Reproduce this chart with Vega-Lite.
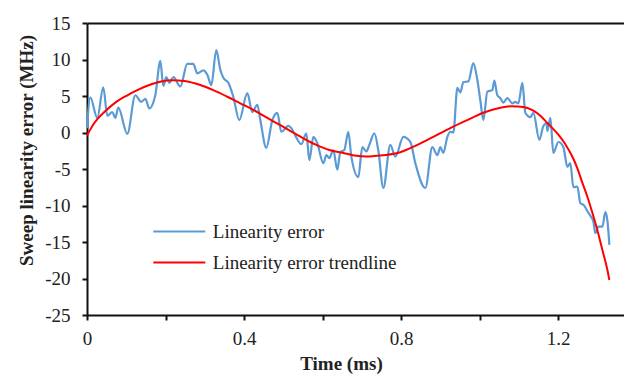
{
  "$schema": "https://vega.github.io/schema/vega-lite/v6.json",
  "width": 537,
  "height": 292,
  "autosize": "none",
  "padding": {"left": 87, "top": 23, "right": 0, "bottom": 61},
  "background": "white",
  "config": {
    "view": {"stroke": null},
    "font": "Liberation Serif",
    "axis": {"grid": false, "domainColor": "#111", "domainWidth": 2, "tickColor": "#111", "tickWidth": 2, "tickSize": 5, "labelFont": "Liberation Serif", "labelFontSize": 19, "labelColor": "#222", "titleFont": "Liberation Serif", "titleFontSize": 19, "titleFontWeight": "bold", "titleColor": "#222", "labelOverlap": false, "labelFlush": false}
  },
  "datasets": {
    "err": [
      {"t": 0.0, "v": 0.6}, {"t": 0.0084, "v": 4.8}, {"t": 0.0262, "v": 2.0}, {"t": 0.0415, "v": 6.2}, {"t": 0.0517, "v": 2.3},
      {"t": 0.0644, "v": 2.8}, {"t": 0.0721, "v": 2.0}, {"t": 0.0797, "v": 3.4}, {"t": 0.1027, "v": -0.2}, {"t": 0.1231, "v": 5.1},
      {"t": 0.1384, "v": 4.2}, {"t": 0.1486, "v": 4.6}, {"t": 0.1588, "v": 3.3}, {"t": 0.174, "v": 5.1}, {"t": 0.1868, "v": 9.8},
      {"t": 0.1944, "v": 6.4}, {"t": 0.2021, "v": 7.6}, {"t": 0.2097, "v": 6.8}, {"t": 0.2199, "v": 7.6}, {"t": 0.2377, "v": 6.3},
      {"t": 0.2555, "v": 9.4}, {"t": 0.2708, "v": 9.4}, {"t": 0.281, "v": 8.1}, {"t": 0.2963, "v": 8.5}, {"t": 0.3065, "v": 7.9},
      {"t": 0.3167, "v": 6.5}, {"t": 0.3294, "v": 11.3}, {"t": 0.3396, "v": 8.6}, {"t": 0.3473, "v": 7.5}, {"t": 0.36, "v": 6.8},
      {"t": 0.3727, "v": 4.9}, {"t": 0.388, "v": 1.7}, {"t": 0.4084, "v": 5.4}, {"t": 0.4211, "v": 2.8}, {"t": 0.4339, "v": 3.8},
      {"t": 0.4415, "v": 1.7}, {"t": 0.4568, "v": -2.1}, {"t": 0.4721, "v": 1.7}, {"t": 0.4848, "v": 2.7}, {"t": 0.495, "v": 0.1},
      {"t": 0.5129, "v": 0.9}, {"t": 0.5205, "v": 0.6}, {"t": 0.5333, "v": -0.7}, {"t": 0.546, "v": -1.6}, {"t": 0.5587, "v": -0.1},
      {"t": 0.5664, "v": -3.8}, {"t": 0.5766, "v": -0.6}, {"t": 0.5868, "v": -1.5}, {"t": 0.6021, "v": -4.2}, {"t": 0.6097, "v": -3.1},
      {"t": 0.6173, "v": -3.5}, {"t": 0.6275, "v": -2.4}, {"t": 0.6377, "v": -5.1}, {"t": 0.6453, "v": -2.7}, {"t": 0.6555, "v": -2.4},
      {"t": 0.6657, "v": 0.1}, {"t": 0.6734, "v": -3.3}, {"t": 0.6912, "v": -6.1}, {"t": 0.7014, "v": -2.0}, {"t": 0.7116, "v": -2.6},
      {"t": 0.7192, "v": -1.7}, {"t": 0.732, "v": -0.1}, {"t": 0.7422, "v": -2.5}, {"t": 0.7549, "v": -7.6}, {"t": 0.7727, "v": -1.7},
      {"t": 0.7855, "v": -3.3}, {"t": 0.8059, "v": -0.6}, {"t": 0.8237, "v": -1.3}, {"t": 0.8364, "v": -4.2}, {"t": 0.8619, "v": -7.6},
      {"t": 0.8797, "v": -2.0}, {"t": 0.8925, "v": -3.1}, {"t": 0.9001, "v": -2.0}, {"t": 0.9078, "v": -2.8}, {"t": 0.918, "v": -0.6},
      {"t": 0.9256, "v": 0.1}, {"t": 0.9333, "v": 0.0}, {"t": 0.9435, "v": 6.1}, {"t": 0.9511, "v": 5.5}, {"t": 0.9587, "v": 6.9},
      {"t": 0.9715, "v": 7.0}, {"t": 0.9842, "v": 9.5}, {"t": 0.9944, "v": 7.2}, {"t": 1.002, "v": 4.4}, {"t": 1.0097, "v": 1.7},
      {"t": 1.0199, "v": 5.6}, {"t": 1.0326, "v": 5.8}, {"t": 1.0377, "v": 7.1}, {"t": 1.0453, "v": 5.1}, {"t": 1.053, "v": 4.7},
      {"t": 1.0606, "v": 4.1}, {"t": 1.0708, "v": 4.7}, {"t": 1.0836, "v": 4.0}, {"t": 1.0912, "v": 4.2}, {"t": 1.0989, "v": 4.0},
      {"t": 1.1091, "v": 6.8}, {"t": 1.1167, "v": 2.7}, {"t": 1.1294, "v": 2.1}, {"t": 1.1371, "v": 2.7}, {"t": 1.1524, "v": -1.0},
      {"t": 1.1626, "v": 0.9}, {"t": 1.1702, "v": 1.3}, {"t": 1.1728, "v": 0.2}, {"t": 1.1804, "v": 2.0}, {"t": 1.188, "v": -2.8},
      {"t": 1.2008, "v": -1.3}, {"t": 1.2135, "v": -2.0}, {"t": 1.2237, "v": -4.7}, {"t": 1.2313, "v": -4.2}, {"t": 1.239, "v": -7.5},
      {"t": 1.2492, "v": -7.4}, {"t": 1.2568, "v": -9.7}, {"t": 1.2645, "v": -9.9}, {"t": 1.2772, "v": -11.0}, {"t": 1.2899, "v": -12.2},
      {"t": 1.295, "v": -13.8}, {"t": 1.3027, "v": -12.9}, {"t": 1.3129, "v": -12.9}, {"t": 1.3205, "v": -10.9}, {"t": 1.3256, "v": -12.0},
      {"t": 1.3307, "v": -15.4}
    ],
    "trend": [
      {"t": 0.0, "v": -0.4}, {"t": 0.0186, "v": 1.3}, {"t": 0.0441, "v": 2.8}, {"t": 0.0746, "v": 4.2}, {"t": 0.1027, "v": 5.1},
      {"t": 0.1281, "v": 5.8}, {"t": 0.1638, "v": 6.6}, {"t": 0.1893, "v": 7.0}, {"t": 0.2173, "v": 7.15}, {"t": 0.2479, "v": 7.05},
      {"t": 0.2887, "v": 6.5}, {"t": 0.3218, "v": 5.8}, {"t": 0.3575, "v": 4.9}, {"t": 0.3906, "v": 4.0}, {"t": 0.4237, "v": 3.1},
      {"t": 0.4594, "v": 2.0}, {"t": 0.4925, "v": 1.0}, {"t": 0.5154, "v": 0.3}, {"t": 0.5511, "v": -0.8}, {"t": 0.5842, "v": -1.7},
      {"t": 0.6173, "v": -2.4}, {"t": 0.653, "v": -2.8}, {"t": 0.6861, "v": -3.2}, {"t": 0.7116, "v": -3.3}, {"t": 0.7371, "v": -3.2},
      {"t": 0.7982, "v": -2.7}, {"t": 0.8415, "v": -1.7}, {"t": 0.8823, "v": -0.6}, {"t": 0.9256, "v": 0.6}, {"t": 0.9689, "v": 1.7},
      {"t": 1.0097, "v": 2.7}, {"t": 1.053, "v": 3.4}, {"t": 1.081, "v": 3.6}, {"t": 1.1116, "v": 3.5}, {"t": 1.1371, "v": 3.0},
      {"t": 1.1549, "v": 2.3}, {"t": 1.1728, "v": 1.3}, {"t": 1.2008, "v": -0.3}, {"t": 1.2186, "v": -1.6}, {"t": 1.239, "v": -3.6},
      {"t": 1.2492, "v": -4.9}, {"t": 1.262, "v": -6.9}, {"t": 1.2747, "v": -8.8}, {"t": 1.2874, "v": -11.0}, {"t": 1.3002, "v": -13.4},
      {"t": 1.3129, "v": -16.1}, {"t": 1.3256, "v": -18.8}, {"t": 1.3307, "v": -20.2}
    ]
  },
  "resolve": {"axis": {"x": "independent"}},
  "layer": [
    {
      "data": {"name": "err"},
      "transform": [{"calculate": "'Linearity error'", "as": "series"}],
      "mark": {"type": "line", "interpolate": "monotone", "strokeWidth": 2.2},
      "encoding": {
        "x": {"field": "t", "type": "quantitative", "scale": {"domain": [0, 1.368], "nice": false, "zero": false},
          "axis": {"orient": "bottom", "title": "Time (ms)", "values": [0, 0.2, 0.4, 0.6, 0.8, 1.0, 1.2], "format": "~g",
            "labelExpr": "(round(datum.value*10) % 4 == 0) ? datum.label : ''", "labelPadding": 9, "titleX": 254, "titlePadding": 6}},
        "y": {"field": "v", "type": "quantitative", "scale": {"domain": [-25, 15], "nice": false, "zero": false},
          "axis": {"title": "Sweep linearity error (MHz)", "values": [-25, -20, -15, -10, -5, 0, 5, 10, 15], "labelOverlap": false,
            "labelExpr": "replace(datum.label, '\u2212', '-')", "labelPadding": 12, "titleY": 127, "titleX": -51}},
        "color": {"field": "series", "type": "nominal",
          "scale": {"domain": ["Linearity error", "Linearity error trendline"], "range": ["#5B9BD5", "#FF0000"]},
          "legend": {"title": null, "orient": "none", "legendX": 82.8, "legendY": 199, "symbolType": "M-5,0H5", "symbolSize": 108,
            "symbolStrokeWidth": 2, "labelFontSize": 19, "labelFont": "Liberation Serif", "labelColor": "#222", "labelOffset": 24,
            "labelLimit": 400, "rowPadding": 11, "padding": 0}}
      }
    },
    {
      "data": {"name": "trend"},
      "transform": [{"calculate": "'Linearity error trendline'", "as": "series"}],
      "mark": {"type": "line", "interpolate": "monotone", "strokeWidth": 2},
      "encoding": {
        "x": {"field": "t", "type": "quantitative", "axis": {"orient": "top", "title": null, "labels": false, "ticks": false, "domainWidth": 2}},
        "y": {"field": "v", "type": "quantitative", "axis": {"title": "Sweep linearity error (MHz)", "values": [-25, -20, -15, -10, -5, 0, 5, 10, 15], "labelOverlap": false,
            "labelExpr": "replace(datum.label, '\u2212', '-')", "labelPadding": 12, "titleY": 127, "titleX": -51}},
        "color": {"field": "series", "type": "nominal"}
      }
    }
  ]
}
